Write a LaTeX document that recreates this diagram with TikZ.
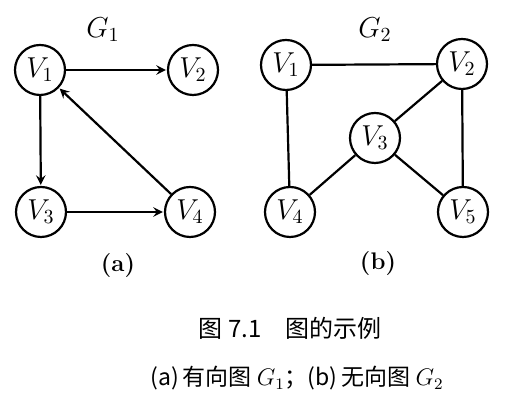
\documentclass[tikz,border=0pt]{standalone}
\usepackage{fontspec}
\usepackage{amsmath}
\usepackage{tikz}
\newfontfamily\cjk{Noto Sans CJK SC}

\begin{document}
\begin{tikzpicture}[
    x=0.5pt, y=0.5pt,
    % vértices: círculo con etiqueta en cursiva
    vertice/.style={circle, draw=black, fill=white, line width=1.1pt, inner sep=0pt, minimum size=25pt, font=\Large},
    % aristas del grafo dirigido y del no dirigido
    arco/.style={->, >=stealth, line width=1.1pt, shorten >=0.5pt},
    arista/.style={line width=1.1pt},
    titulo/.style={font=\Large},
    subtitulo/.style={font=\large\bfseries}
]
    \useasboundingbox (0,0) rectangle (515,416);

    % --- GRAFO DIRIGIDO G1 ---
    \node[titulo] (g1) at (103,386) {$G_1$};
    \node[vertice] (a1) at (40,346)  {$V_1$};
    \node[vertice] (a2) at (193,346) {$V_2$};
    \node[vertice] (a3) at (41,204)  {$V_3$};
    \node[vertice] (a4) at (190,204) {$V_4$};

    \draw[arco] (a1) -- (a2);
    \draw[arco] (a1) -- (a3);
    \draw[arco] (a3) -- (a4);
    \draw[arco] (a4) -- (a1);

    \node[subtitulo] (sa) at (118,150) {(a)};

    % --- GRAFO NO DIRIGIDO G2 ---
    \node[titulo] (g2) at (375,386) {$G_2$};
    \node[vertice] (b1) at (286,351) {$V_1$};
    \node[vertice] (b2) at (462,352) {$V_2$};
    \node[vertice] (b3) at (375,278) {$V_3$};
    \node[vertice] (b4) at (290,204) {$V_4$};
    \node[vertice] (b5) at (463,204) {$V_5$};

    \draw[arista] (b1) -- (b2);
    \draw[arista] (b1) -- (b4);
    \draw[arista] (b2) -- (b3);
    \draw[arista] (b2) -- (b5);
    \draw[arista] (b3) -- (b4);
    \draw[arista] (b3) -- (b5);

    \node[subtitulo] (sb) at (378,152) {(b)};

    % --- PIE DE FIGURA ---
    \node[font=\cjk\large] (pie) at (290,88) {图 7.1\hspace{1em}图的示例};
    \node[font=\cjk\fontsize{11.5}{14}\selectfont] (nota) at (297,38) {(a)\,有向图 $G_1$；(b)\,无向图 $G_2$};

\end{tikzpicture}
\end{document}
